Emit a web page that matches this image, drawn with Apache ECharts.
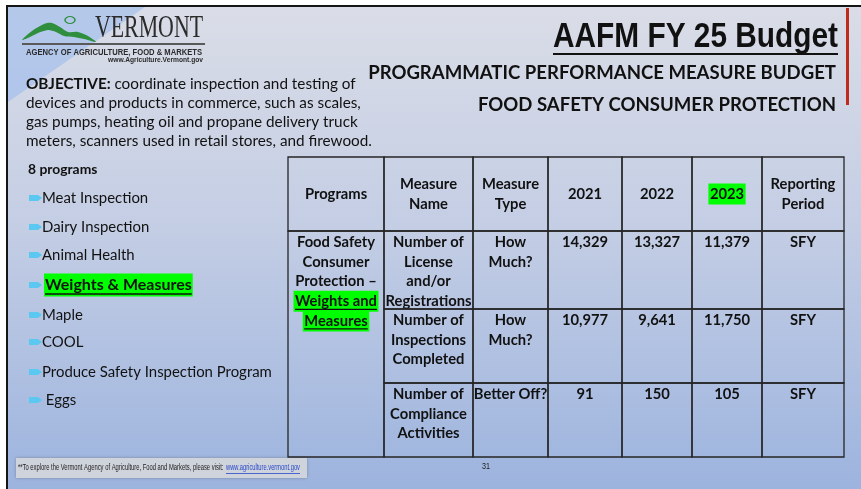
<!DOCTYPE html>
<html>
<head>
<meta charset="UTF-8">
<title>AAFM FY 25 Budget</title>
<script src="https://cdn.jsdelivr.net/npm/echarts@6/dist/echarts.min.js"></script>
<style>
  html, body { margin: 0; padding: 0; background: #fff; }
  #chart { width: 861px; height: 489px; }
</style>
</head>
<body>
<div id="chart"></div>
<script>
// slide text
var title = 'AAFM FY 25 Budget';
var subTitle = 'PROGRAMMATIC PERFORMANCE MEASURE BUDGET';
var sectionTitle = 'FOOD SAFETY CONSUMER PROTECTION';
var objective = ['coordinate inspection and testing of',
  'devices and products in commerce, such as scales,',
  'gas pumps, heating oil and propane delivery truck',
  'meters, scanners used in retail stores, and firewood.'];
var programsHeading = '8 programs';
var programs = ['Meat Inspection', 'Dairy Inspection', 'Animal Health', 'Weights & Measures',
  'Maple', 'COOL', 'Produce Safety Inspection Program', ' Eggs'];
var selectedProgram = 'Weights & Measures';

// table data
var columns = [['Programs'], ['Measure', 'Name'], ['Measure', 'Type'], ['2021'], ['2022'], ['2023'], ['Reporting', 'Period']];
var programName = ['Food Safety', 'Consumer', 'Protection –', 'Weights and', 'Measures'];
var measureNames = [['Number of', 'License', 'and/or', 'Registrations'],
  ['Number of', 'Inspections', 'Completed'],
  ['Number of', 'Compliance', 'Activities']];
var measureTypes = [['How', 'Much?'], ['How', 'Much?'], ['Better Off?']];
var values2021 = [14329, 10977, 91];
var values2022 = [13327, 9641, 150];
var values2023 = [11379, 11750, 105];
var reportingPeriod = ['SFY', 'SFY', 'SFY'];

// highlighted bits on the slide
var greenText = ['Weights and', 'Measures', '2023'];
var underlinedText = ['Weights and', 'Measures'];

// table layout (axis units = px inside the grid)
var colEdges = [0, 96, 185, 260, 334, 404, 474, 556];
var rowEdges = [0, 74, 152, 226, 300];

var ctx = document.createElement('canvas').getContext('2d');
function textWidth(t, font) { ctx.font = font; return ctx.measureText(t).width; }
function fitSize(t, weight, family, w) { return 20 * w / textWidth(t, weight + ' 20px ' + family); }

var BODY = 'Lato, "Noto Sans", sans-serif';
var ARIAL = '"Liberation Sans", Arial, sans-serif';

// text squeezed horizontally to a given width (stand-in for narrow fonts)
function squeezed(text, x, y, font, width, align, color) {
  return {
    type: 'text', x: x, y: y, scaleX: width / textWidth(text, font),
    style: { text: text, x: 0, y: 0, font: font, fill: color || '#111', align: align || 'left', verticalAlign: 'middle' }
  };
}

var tableSize = fitSize('Registrations', 'bold', BODY, 86);
var tableFont = 'bold ' + tableSize.toFixed(2) + 'px ' + BODY;
var lineH = 19.6;

// cells built from the arrays
var cells = [];
columns.forEach(function (lines, i) { cells.push({ col: i, r0: 0, r1: 1, lines: lines }); });
cells.push({ col: 0, r0: 1, r1: 4, lines: programName });
for (var r = 0; r < 3; r++) {
  cells.push({ col: 1, r0: r + 1, r1: r + 2, lines: measureNames[r] });
  cells.push({ col: 2, r0: r + 1, r1: r + 2, lines: measureTypes[r] });
  cells.push({ col: 3, r0: r + 1, r1: r + 2, lines: [values2021[r].toLocaleString('en-US')] });
  cells.push({ col: 4, r0: r + 1, r1: r + 2, lines: [values2022[r].toLocaleString('en-US')] });
  cells.push({ col: 5, r0: r + 1, r1: r + 2, lines: [values2023[r].toLocaleString('en-US')] });
  cells.push({ col: 6, r0: r + 1, r1: r + 2, lines: [reportingPeriod[r]] });
}

// slide decoration
var els = [];
els.push({
  type: 'rect', z: -10, shape: { x: 7, y: 6, width: 880, height: 500 },
  style: {
    fill: new echarts.graphic.LinearGradient(0, 0, 0, 1, [
      { offset: 0, color: '#dadde7' }, { offset: 0.45, color: '#c3cde4' }, { offset: 1, color: '#9ab2de' }]),
    stroke: '#151515', lineWidth: 2
  }
});
els.push({ type: 'polygon', z: -9, shape: { points: [[8, 7], [145, 7], [8, 102]] }, style: { fill: 'rgba(150,184,236,0.55)' } });
els.push({ type: 'rect', shape: { x: 846, y: 8, width: 3, height: 97 }, style: { fill: '#bf2a1a' } });

// logo
els.push({
  type: 'polygon',
  shape: {
    smooth: 0.3,
    points: [[22, 40], [32, 31], [44, 24], [52, 23], [60, 27], [68, 32], [78, 32], [88, 36], [96, 42],
      [84, 39], [74, 37], [64, 36], [56, 32], [48, 30], [38, 33], [30, 37]]
  },
  style: { fill: '#2f8f3f' }
});
els.push({ type: 'circle', x: 70, y: 20, scaleY: 0.7, shape: { cx: 0, cy: 0, r: 5 }, style: { fill: 'none', stroke: '#2f8f3f', lineWidth: 1.5 } });
els.push(squeezed('VERMONT', 95, 29, '31px "Liberation Serif", "DejaVu Serif", serif', 108, 'left', '#2b2b2b'));
els.push({ type: 'line', shape: { x1: 22, y1: 44, x2: 205, y2: 44 }, style: { stroke: '#5a5a5a', lineWidth: 2 } });
els.push(squeezed('AGENCY OF AGRICULTURE, FOOD & MARKETS', 26, 53, 'bold 8.5px ' + ARIAL, 176, 'left', '#2b2b2b'));
els.push(squeezed('www.Agriculture.Vermont.gov', 203, 60.5, 'bold 6.5px ' + ARIAL, 95, 'right', '#2b2b2b'));

// titles
els.push(squeezed(title, 838, 37, 'bold 35px ' + ARIAL, 285, 'right'));
els.push({ type: 'line', shape: { x1: 553, y1: 54, x2: 838, y2: 54 }, style: { stroke: '#111', lineWidth: 2 } });
var subFont = 'bold ' + fitSize(subTitle, 'bold', BODY, 468).toFixed(2) + 'px ' + BODY;
els.push({ type: 'text', style: { text: subTitle, x: 836, y: 73, font: subFont, fill: '#111', align: 'right', verticalAlign: 'middle' } });
els.push({ type: 'text', style: { text: sectionTitle, x: 836, y: 105, font: subFont, fill: '#111', align: 'right', verticalAlign: 'middle' } });

// objective
var objSize = fitSize(objective[1], 'normal', BODY, 335).toFixed(2);
var objFont = objSize + 'px ' + BODY, objBold = 'bold ' + objSize + 'px ' + BODY;
objective.forEach(function (line, i) {
  var y = 84 + i * 19;
  var x = 26;
  if (i === 0) {
    els.push({ type: 'text', style: { text: 'OBJECTIVE:', x: x, y: y, font: objBold, fill: '#111', verticalAlign: 'middle' } });
    x += textWidth('OBJECTIVE: ', objBold);
  }
  els.push({ type: 'text', style: { text: line, x: x, y: y, font: objFont, fill: '#111', verticalAlign: 'middle' } });
});

// program list
var listSize = fitSize('Produce Safety Inspection Program', 'normal', BODY, 230).toFixed(2);
var listFont = listSize + 'px ' + BODY;
els.push({ type: 'text', style: { text: programsHeading, x: 28, y: 170, font: 'bold ' + (listSize * 0.93).toFixed(2) + 'px ' + BODY, fill: '#111', verticalAlign: 'middle' } });
var listY = [198, 227, 255, 285, 315, 342, 372, 400];
programs.forEach(function (p, i) {
  var y = listY[i];
  els.push({ type: 'polygon', shape: { points: [[29, y - 3], [38, y - 3], [42, y], [38, y + 3], [29, y + 3]] }, style: { fill: '#5ac8f0' } });
  if (p === selectedProgram) {
    var f = 'bold ' + (listSize * 1.07).toFixed(2) + 'px ' + BODY;
    var w = textWidth(p, f);
    els.push({ type: 'rect', shape: { x: 44, y: y - 11.5, width: w + 2, height: 23 }, style: { fill: '#00ff00' } });
    els.push({ type: 'text', style: { text: p, x: 45, y: y, font: f, fill: '#111', verticalAlign: 'middle' } });
    els.push({ type: 'line', shape: { x1: 45, y1: y + 9, x2: 45 + w, y2: y + 9 }, style: { stroke: '#111', lineWidth: 1.3 } });
  } else {
    els.push({ type: 'text', style: { text: p, x: 42, y: y, font: listFont, fill: '#111', verticalAlign: 'middle' } });
  }
});

// footer
var footText = '**To explore the Vermont Agency of Agriculture, Food and Markets, please visit: ';
var footUrl = 'www.agriculture.vermont.gov';
els.push({ type: 'rect', shape: { x: 16, y: 458, width: 291, height: 20 }, style: { fill: '#cfd3dc', shadowBlur: 3, shadowColor: 'rgba(0,0,0,0.25)' } });
els.push(squeezed(footText, 18, 468, '9px ' + ARIAL, 207, 'left', '#222'));
els.push(squeezed(footUrl, 226, 468, '9px ' + ARIAL, 74, 'left', '#2748c8'));
els.push({ type: 'line', shape: { x1: 226, y1: 473.5, x2: 300, y2: 473.5 }, style: { stroke: '#2748c8', lineWidth: 0.8 } });
els.push(squeezed('31', 486, 467, '9px ' + ARIAL, 8, 'center', '#222'));

var chart = echarts.init(document.getElementById('chart'));
chart.setOption({
  backgroundColor: '#fff',
  animation: false,
  graphic: { elements: els },
  grid: { left: 288, top: 157, width: 556, height: 300 },
  xAxis: { type: 'value', min: 0, max: 556, show: false },
  yAxis: { type: 'value', min: 0, max: 300, inverse: true, show: false },
  series: [{
    type: 'custom',
    coordinateSystem: 'cartesian2d',
    silent: true,
    z: 5,
    data: cells.map(function (c) { return [c.col, c.r0, c.r1]; }),
    renderItem: function (params, api) {
      var c = cells[params.dataIndex];
      var p0 = api.coord([colEdges[c.col], rowEdges[c.r0]]);
      var p1 = api.coord([colEdges[c.col + 1], rowEdges[c.r1]]);
      var kids = [{
        type: 'rect', shape: { x: p0[0], y: p0[1], width: p1[0] - p0[0], height: p1[1] - p0[1] },
        style: { fill: 'none', stroke: '#262626', lineWidth: 1.3 }
      }];
      var cx = (p0[0] + p1[0]) / 2;
      var y0 = c.r0 === 0 ? (p0[1] + p1[1]) / 2 - (c.lines.length - 1) * lineH / 2 : p0[1] + 11.5;
      c.lines.forEach(function (t, i) {
        var yy = y0 + i * lineH;
        var w = textWidth(t, tableFont);
        if (greenText.indexOf(t) >= 0) {
          kids.push({ type: 'rect', shape: { x: cx - w / 2 - 1.5, y: yy - 10.5, width: w + 3, height: 21 }, style: { fill: '#00ff00' } });
        }
        kids.push({ type: 'text', style: { text: t, x: cx, y: yy, font: tableFont, fill: '#111', align: 'center', verticalAlign: 'middle' } });
        if (underlinedText.indexOf(t) >= 0) {
          kids.push({ type: 'line', shape: { x1: cx - w / 2, y1: yy + 8, x2: cx + w / 2, y2: yy + 8 }, style: { stroke: '#111', lineWidth: 1.2 } });
        }
      });
      return { type: 'group', children: kids };
    }
  }]
});
</script>
</body>
</html>
